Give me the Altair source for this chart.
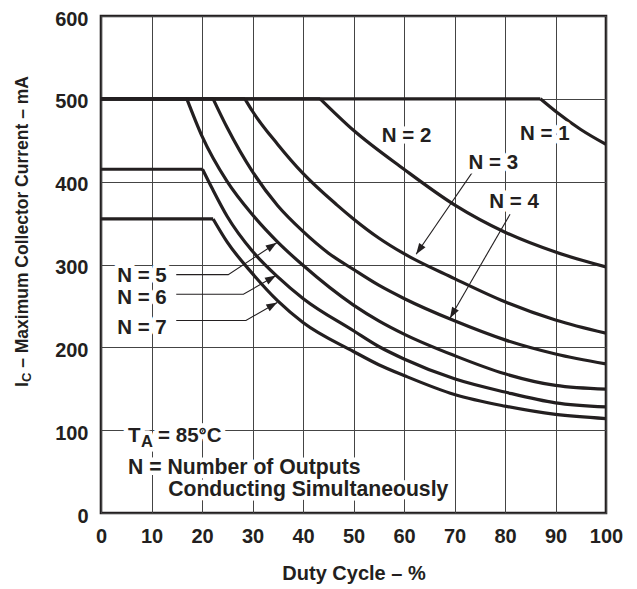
import math
import altair as alt
import pandas as pd

# ---------------- data ----------------
curve_names = ["N = 1", "N = 2", "N = 3", "N = 4", "N = 5", "N = 6", "N = 7"]
knee_x = [87, 43.4, 28.5, 22.2, 17, 20.1, 22.2]

n1_x = [0, 87, 90, 95, 100]
n1_y = [500, 500, 485, 463, 445]
n2_x = [0, 43.4, 50, 60, 70, 80, 90, 100]
n2_y = [500, 500, 462, 415, 372, 339, 315, 297]
n3_x = [0, 28.5, 30, 35, 40, 46.7, 50, 55, 60, 70, 80, 90, 100]
n3_y = [500, 500, 485, 445, 410, 372, 355, 332, 313, 283, 255, 233, 217]
n4_x = [0, 22.2, 25, 30, 35, 40, 45, 50, 55, 60, 70, 80, 90, 100]
n4_y = [500, 500, 465, 412, 371, 340, 314, 294, 275, 259, 232, 209, 192, 180]
n5_x = [0, 17, 20, 25, 30, 35, 40, 50, 55, 60, 70, 80, 90, 100]
n5_y = [500, 500, 455, 400, 360, 327, 299, 251, 232, 216, 190, 168, 154, 149.5]
n6_x = [0, 20.1, 22, 25, 30, 35, 40, 50, 55, 60, 70, 80, 90, 100]
n6_y = [415, 415, 392, 358, 316, 285, 259, 220, 201, 186, 162, 146, 133, 128]
n7_x = [0, 22.2, 25, 30, 35, 40, 50, 55, 60, 70, 80, 90, 100]
n7_y = [355, 355, 327, 289, 256, 230, 195, 179, 166, 143, 129, 119, 114]

# curve labels
top_labels = ["N = 1", "N = 2", "N = 3", "N = 4"]
top_label_x = [87.9, 60.5, 77.7, 81.8]
top_label_y = [457, 455.7, 422.5, 375.7]
left_labels = ["N = 5", "N = 6", "N = 7"]
left_label_x = [3.2, 3.2, 3.2]
left_label_y = [286.6, 259.0, 223.3]

# leader arrows (label -> curve), last point is the arrow tip
arrow_names = ["N = 3", "N = 4", "N = 5", "N = 6", "N = 7"]
arrow_x = [[73.9, 62.4], [81.0, 69.1], [14.9, 25.2, 34.8], [14.9, 28.2, 34.65], [14.9, 28.7, 34.9]]
arrow_y = [[414.5, 312.4], [360.7, 235.2], [287.8, 287.8, 326.2], [264.0, 264.0, 286.6], [232.4, 232.4, 254.2]]

# condition notes
note_text = ["T", "A", "= 85°C", "N = Number of Outputs", "Conducting Simultaneously"]
note_x = [5.35, 7.9, 11.3, 5.35, 13.3]
note_y = [92.6, 85.5, 92.6, 54.0, 27.3]
note_size = [20.5, 16.5, 20.5, 21.2, 21.2]

x_ticks = list(range(0, 101, 10))
y_ticks = list(range(0, 601, 100))

# ---------------- build tables ----------------
W, H = 505, 497
FONT = "Liberation Sans"
INK = "#231f20"

all_x = [n1_x, n2_x, n3_x, n4_x, n5_x, n6_x, n7_x]
all_y = [n1_y, n2_y, n3_y, n4_y, n5_y, n6_y, n7_y]
rows = []
for name, kx, xs, ys in zip(curve_names, knee_x, all_x, all_y):
    k = xs.index(kx)
    for i in range(0, k + 1):
        rows.append({"key": name + " flat", "x": xs[i], "y": ys[i]})
    for i in range(k, len(xs)):
        rows.append({"key": name + " curve", "x": xs[i], "y": ys[i]})
df_curves = pd.DataFrame(rows)

arows = []
heads = []
sx, sy = W / 100.0, H / 600.0
HEAD_HALF = 5.5
for name, xs, ys in zip(arrow_names, arrow_x, arrow_y):
    for i, (a, b) in enumerate(zip(xs, ys)):
        arows.append({"key": name, "i": i, "x": a, "y": b})
    ux = (xs[-1] - xs[-2]) * sx
    uy = -(ys[-1] - ys[-2]) * sy
    L = math.hypot(ux, uy)
    ux, uy = ux / L, uy / L
    ang = math.degrees(math.atan2(ux, -uy)) % 360
    heads.append({"key": name, "x": xs[-1] - HEAD_HALF * ux / sx,
                  "y": ys[-1] + HEAD_HALF * uy / sy, "angle": ang})
df_arrows = pd.DataFrame(arows)
df_heads = pd.DataFrame(heads)

df_top = pd.DataFrame({"t": top_labels, "x": top_label_x, "y": top_label_y})
df_left = pd.DataFrame({"t": left_labels, "x": left_label_x, "y": left_label_y})
df_notes = pd.DataFrame({"t": note_text, "x": note_x, "y": note_y, "s": note_size})

# ---------------- encodings ----------------
xs_scale = alt.Scale(domain=[0, 100], nice=False, zero=False)
ys_scale = alt.Scale(domain=[0, 600], nice=False, zero=False)
ax_x = alt.Axis(values=x_ticks, title="Duty Cycle – %", grid=True, ticks=False, tickSize=0,
                domain=False, labelFontSize=20, labelFont=FONT, labelFontWeight="bold",
                labelColor=INK, labelPadding=13, labelFlush=False, labelOverlap=False,
                titleFontSize=20, titleFont=FONT, titleFontWeight="bold", titleColor=INK,
                titlePadding=17, gridColor="#444444", gridWidth=1)
ax_y = alt.Axis(values=y_ticks, title=None, grid=True, ticks=False, tickSize=0,
                domain=False, labelFontSize=20, labelFont=FONT, labelFontWeight="bold",
                labelColor=INK, labelPadding=13, labelOffset=3, labelFlush=False,
                labelOverlap=False, gridColor="#444444", gridWidth=1)
X = alt.X("x:Q", scale=xs_scale, axis=ax_x)
Y = alt.Y("y:Q", scale=ys_scale, axis=ax_y)

curves = alt.Chart(df_curves).mark_line(color=INK, strokeWidth=3.2, interpolate="monotone",
                                        clip=True, strokeCap="butt").encode(
    x=X, y=Y, detail="key:N")

arrows = alt.Chart(df_arrows).mark_line(color=INK, strokeWidth=1.1).encode(
    x=X, y=Y, detail="key:N", order="i:Q")

heads_layer = alt.Chart(df_heads).mark_point(
    shape="M0,-1L0.7,1L-0.7,1Z", filled=True, color=INK, opacity=1, size=121).encode(
    x=X, y=Y, angle=alt.Angle("angle:Q", scale=None))


def text_pair(df, align, size=20.5):
    halo = alt.Chart(df).mark_text(font=FONT, fontWeight="bold", fontSize=size, align=align,
                                   baseline="middle", fill="white", stroke="white",
                                   strokeWidth=9, strokeJoin="round").encode(x=X, y=Y, text="t:N")
    txt = alt.Chart(df).mark_text(font=FONT, fontWeight="bold", fontSize=size, align=align,
                                  baseline="middle", color=INK).encode(x=X, y=Y, text="t:N")
    return [halo, txt]


notes_halo = alt.Chart(df_notes).mark_text(font=FONT, fontWeight="bold", align="left",
                                           baseline="middle", fill="white", stroke="white",
                                           strokeWidth=9, strokeJoin="round").encode(
    x=X, y=Y, text="t:N", size=alt.Size("s:Q", scale=None, legend=None))
notes_txt = alt.Chart(df_notes).mark_text(font=FONT, fontWeight="bold", align="left",
                                          baseline="middle", color=INK).encode(
    x=X, y=Y, text="t:N", size=alt.Size("s:Q", scale=None, legend=None))

# y title with subscript, placed in pixel space left of the plot
one = pd.DataFrame({"k": [0]})
ytitle_parts = []
for txt, px, py, fs in [("I", -73, 371, 17.5), ("C", -70, 366.1, 13),
                        ("– Maximum Collector Current – mA", -73, 351.8, 17.5)]:
    ytitle_parts.append(alt.Chart(one).mark_text(
        font=FONT, fontWeight="bold", fontSize=fs, angle=270, align="left",
        baseline="alphabetic", color=INK).encode(
        x=alt.value(px), y=alt.value(py), text=alt.value(txt)))

chart = alt.layer(
    curves, arrows, heads_layer,
    *text_pair(df_top, "center"), *text_pair(df_left, "left"),
    notes_halo, notes_txt, *ytitle_parts
).properties(
    width=W, height=H,
    autosize=alt.AutoSizeParams(type="none"),
    padding={"left": 93, "top": 8, "right": 19, "bottom": 72},
    background="white",
).configure_view(stroke=INK, strokeWidth=2.6)

chart.save("out.html", embed_options={"renderer": "svg", "actions": False})
